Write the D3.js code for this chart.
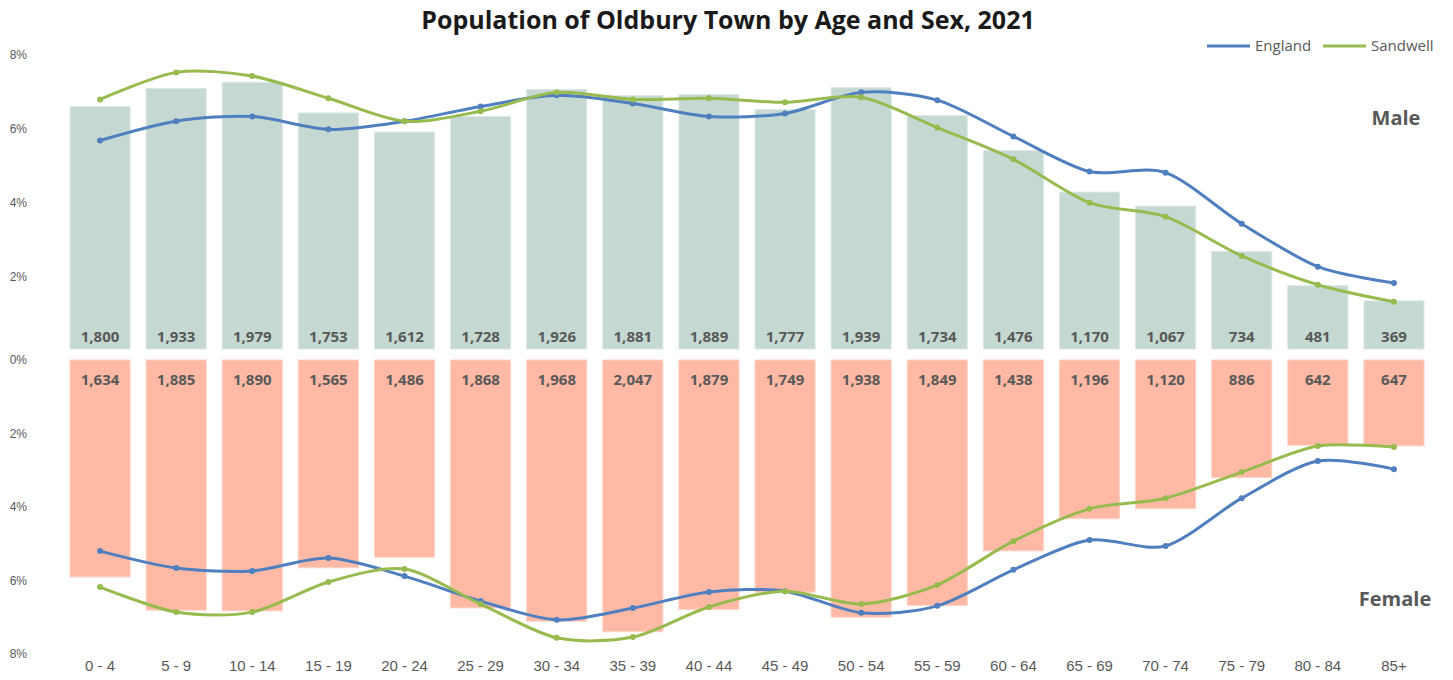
<!DOCTYPE html>
<meta charset="utf-8">
<style>
body { margin: 0; background: #fff; }
svg { font-family: "Open Sans", "Noto Sans", sans-serif; }
.axis path, .axis line { display: none; }
.axis text { fill: #595959; }
</style>
<svg width="1453" height="680"></svg>
<script src="https://d3js.org/d3.v7.min.js"></script>
<script>

var ages = ["0 - 4", "5 - 9", "10 - 14", "15 - 19", "20 - 24", "25 - 29", "30 - 34", "35 - 39", "40 - 44",
  "45 - 49", "50 - 54", "55 - 59", "60 - 64", "65 - 69", "70 - 74", "75 - 79", "80 - 84", "85+"];

// Oldbury counts
var maleCount = [1800, 1933, 1979, 1753, 1612, 1728, 1926, 1881, 1889, 1777, 1939, 1734, 1476, 1170, 1067, 734, 481, 369];
var femaleCount = [1634, 1885, 1890, 1565, 1486, 1868, 1968, 2047, 1879, 1749, 1938, 1849, 1438, 1196, 1120, 886, 642, 647];

// comparison lines, % of each sex
var englandMale = [5.69, 6.21, 6.34, 5.99, 6.21, 6.61, 6.91, 6.69, 6.34, 6.42, 6.99, 6.78, 5.80, 4.85, 4.82, 3.44, 2.28, 1.84];
var sandwellMale = [6.80, 7.53, 7.43, 6.83, 6.21, 6.48, 6.99, 6.80, 6.83, 6.72, 6.86, 6.04, 5.18, 4.01, 3.63, 2.57, 1.79, 1.33];
var englandFemale = [5.20, 5.66, 5.74, 5.39, 5.88, 6.56, 7.07, 6.75, 6.31, 6.29, 6.88, 6.69, 5.71, 4.90, 5.06, 3.76, 2.75, 2.97];
var sandwellFemale = [6.18, 6.86, 6.86, 6.04, 5.69, 6.64, 7.56, 7.54, 6.72, 6.29, 6.64, 6.12, 4.93, 4.05, 3.76, 3.05, 2.34, 2.37];

var yTicks = [0, 2, 4, 6, 8];

var svg = d3.select("svg");

var maleTotal = d3.sum(maleCount),
    femaleTotal = d3.sum(femaleCount);

var x = d3.scaleBand()
    .domain(ages)
    .range([62, 1432])
    .paddingInner(0.21)
    .paddingOuter(0.105);

var yM = d3.scaleLinear().domain([0, 8]).range([351, 55]);
var yF = d3.scaleLinear().domain([0, 8]).range([360, 654]);

var fmt = d3.format(",");

// title
svg.append("text")
    .attr("x", 728)
    .attr("y", 29)
    .attr("text-anchor", "middle")
    .style("font-size", "25px")
    .style("font-weight", "bold")
    .style("fill", "#1a1a1a")
    .text("Population of Oldbury Town by Age and Sex, 2021");

// y axes
svg.append("g")
    .attr("class", "axis")
    .attr("transform", "translate(30,0)")
    .call(d3.axisLeft(yM).tickValues(yTicks.slice(1)).tickFormat(function(d) { return d + "%"; }).tickSize(0))
    .selectAll("text").style("font-size", "12px");

svg.append("g")
    .attr("class", "axis")
    .attr("transform", "translate(30,0)")
    .call(d3.axisLeft(yF).tickValues(yTicks).tickFormat(function(d) { return d + "%"; }).tickSize(0))
    .selectAll("text").style("font-size", "12px");

// x axis
svg.append("g")
    .attr("class", "axis")
    .attr("transform", "translate(0,657)")
    .call(d3.axisBottom(x).tickSize(0))
    .selectAll("text").style("font-size", "15px");

// bars
var male = ages.map(function(a, i) { return {age: a, n: maleCount[i], pct: maleCount[i] / maleTotal * 100}; });
var female = ages.map(function(a, i) { return {age: a, n: femaleCount[i], pct: femaleCount[i] / femaleTotal * 100}; });

svg.append("g").selectAll("rect")
    .data(male)
    .enter().append("rect")
      .attr("x", function(d) { return x(d.age); })
      .attr("width", x.bandwidth())
      .attr("y", function(d) { return yM(d.pct); })
      .attr("height", function(d) { return yM(0) - yM(d.pct) - 2; })
      .attr("fill", "#c6d8d2")
      .attr("stroke", "#dde8e4")
      .attr("stroke-width", 1);

svg.append("g").selectAll("rect")
    .data(female)
    .enter().append("rect")
      .attr("x", function(d) { return x(d.age); })
      .attr("width", x.bandwidth())
      .attr("y", yF(0))
      .attr("height", function(d) { return yF(d.pct) - yF(0); })
      .attr("fill", "#ffb9a5")
      .attr("stroke", "#ffd3c6")
      .attr("stroke-width", 1);

// bar labels
svg.append("g").selectAll("text")
    .data(male)
    .enter().append("text")
      .attr("x", function(d) { return x(d.age) + x.bandwidth() / 2; })
      .attr("y", yM(0) - 9)
      .attr("text-anchor", "middle")
      .style("font-size", "15px")
      .style("font-weight", "bold")
      .style("fill", "#595959")
      .text(function(d) { return fmt(d.n); });

svg.append("g").selectAll("text")
    .data(female)
    .enter().append("text")
      .attr("x", function(d) { return x(d.age) + x.bandwidth() / 2; })
      .attr("y", yF(0) + 25)
      .attr("text-anchor", "middle")
      .style("font-size", "15px")
      .style("font-weight", "bold")
      .style("fill", "#595959")
      .text(function(d) { return fmt(d.n); });

// lines
var cx = function(i) { return x(ages[i]) + x.bandwidth() / 2; };

function drawLine(vals, y, color) {
  var line = d3.line()
      .x(function(d, i) { return cx(i); })
      .y(function(d) { return y(d); })
      .curve(d3.curveCardinal.tension(0.15));

  svg.append("path")
      .datum(vals)
      .attr("fill", "none")
      .attr("stroke", color)
      .attr("stroke-width", 3)
      .attr("stroke-linejoin", "round")
      .attr("d", line);

  svg.append("g").selectAll("circle")
      .data(vals)
      .enter().append("circle")
        .attr("cx", function(d, i) { return cx(i); })
        .attr("cy", function(d) { return y(d); })
        .attr("r", 3)
        .attr("fill", color);
}

var blue = "#4f7fbf", green = "#98bb4f";
drawLine(englandMale, yM, blue);
drawLine(sandwellMale, yM, green);
drawLine(englandFemale, yF, blue);
drawLine(sandwellFemale, yF, green);

// sex labels
svg.append("text")
    .attr("x", 1396).attr("y", 125)
    .attr("text-anchor", "middle")
    .style("font-size", "20px").style("font-weight", "bold").style("fill", "#595959")
    .text("Male");

svg.append("text")
    .attr("x", 1395).attr("y", 606)
    .attr("text-anchor", "middle")
    .style("font-size", "20px").style("font-weight", "bold").style("fill", "#595959")
    .text("Female");

// legend
var legend = [{name: "England", color: blue, x: 1207}, {name: "Sandwell", color: green, x: 1323}];
var lg = svg.append("g").selectAll("g")
    .data(legend)
    .enter().append("g")
      .attr("transform", function(d) { return "translate(" + d.x + ",46)"; });

lg.append("line")
    .attr("x1", 0).attr("x2", 43)
    .attr("stroke", function(d) { return d.color; })
    .attr("stroke-width", 3);

lg.append("text")
    .attr("x", 48).attr("y", 5)
    .style("font-size", "15px").style("fill", "#595959")
    .text(function(d) { return d.name; });

</script>
